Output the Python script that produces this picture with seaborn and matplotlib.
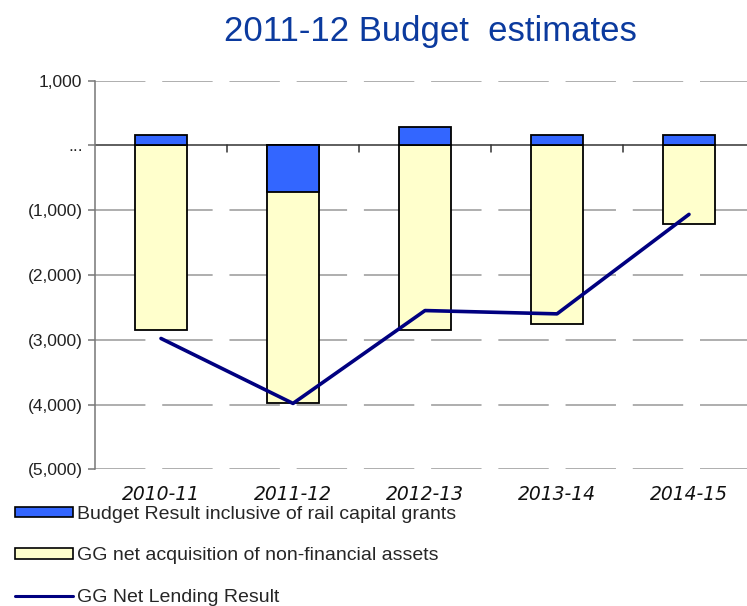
import numpy as np
import pandas as pd
import matplotlib
matplotlib.use("Agg")
import matplotlib.pyplot as plt
from matplotlib.patches import Patch
from matplotlib.lines import Line2D
from matplotlib.ticker import FixedLocator
import seaborn as sns

# Budget data ($m)
years = ["2010-11", "2011-12", "2012-13", "2013-14", "2014-15"]
budget_result = [155, -718, 284, 155, 155]          # inclusive of rail capital grants
nonfin_assets = [-2850, -3265, -2850, -2750, -1220]  # GG net acquisition of non-financial assets
net_lending = [-2980, -3983, -2549, -2600, -1064]    # GG net lending result

y_ticks = [1000, 0, -1000, -2000, -3000, -4000, -5000]
y_tick_labels = ["1,000", "...", "(1,000)", "(2,000)", "(3,000)", "(4,000)", "(5,000)"]

legend_labels = ["Budget Result inclusive of rail capital grants",
                 "GG net acquisition of non-financial assets",
                 "GG Net Lending Result"]

BLUE = "#3366FF"
YELLOW = "#FFFFCC"
NAVY = "#000080"

sns.set_theme(style="white")
plt.rcParams["font.family"] = ["Liberation Sans", "DejaVu Sans"]

df = pd.DataFrame({"year": years,
                   "budget": budget_result,
                   "assets": nonfin_assets,
                   "lending": net_lending})
# yellow segment sits below any negative budget result
df["assets_total"] = df["assets"] + np.minimum(df["budget"], 0)

fig = plt.figure(figsize=(7.47, 6.06), dpi=100)
ax = fig.add_axes([95 / 747, 1 - 469.3 / 606, 660 / 747, (469.3 - 80.7) / 606])

sns.barplot(data=df, x="year", y="assets_total", color=YELLOW, saturation=1,
            width=0.4, edgecolor="black", linewidth=1.3, ax=ax, zorder=3)
sns.barplot(data=df, x="year", y="budget", color=BLUE, saturation=1,
            width=0.4, edgecolor="black", linewidth=1.3, ax=ax, zorder=3)
sns.lineplot(x=np.arange(len(years)), y=df["lending"], color=NAVY,
             linewidth=2.6, ax=ax, zorder=4)

ax.set_xlim(-0.5, len(years) - 0.5)
ax.set_ylim(-5000, 1000)
ax.set_xlabel("")
ax.set_ylabel("")

# dashed horizontal gridlines
for v in y_ticks:
    if v != 0:
        ax.axhline(v, color="#999999", linewidth=1.1, linestyle=(0, (33, 11)), zorder=1)
# zero line with category boundary ticks
ax.axhline(0, color="#333333", linewidth=1.1, zorder=2)
for b in np.arange(0.5, len(years) - 0.5, 1.0):
    ax.plot([b, b], [0, -95], color="#333333", linewidth=1.1, zorder=2)

ax.yaxis.set_major_locator(FixedLocator(y_ticks))
ax.set_yticklabels(y_tick_labels, fontsize=12.5, color="#222222")
ax.set_xticks(range(len(years)))
ax.set_xticklabels(years, fontsize=13.5, style="italic", family="DejaVu Sans", color="#111111")
ax.tick_params(axis="x", length=0, pad=11)
ax.tick_params(axis="y", length=5, width=1.1, color="#777777", left=True, pad=4)

for s in ["top", "right", "bottom"]:
    ax.spines[s].set_visible(False)
ax.spines["left"].set_color("#777777")
ax.spines["left"].set_linewidth(1.1)

fig.text(430 / 747, 1 - 31 / 606, "2011-12 Budget  estimates", color="#0B3A9E",
         fontsize=25, ha="center", va="center")

handles = [Patch(facecolor=BLUE, edgecolor="black", linewidth=1.2),
           Patch(facecolor=YELLOW, edgecolor="black", linewidth=1.2),
           Line2D([0], [0], color=NAVY, linewidth=2.2)]
fig.legend(handles, legend_labels, loc="upper left",
           bbox_to_anchor=(15 / 747, 1 - 506 / 606), frameon=False,
           fontsize=14, handlelength=3.0, handleheight=0.45,
           handletextpad=0.2, labelspacing=1.25, borderaxespad=0, borderpad=0)

fig.savefig("out.png", dpi=100)
